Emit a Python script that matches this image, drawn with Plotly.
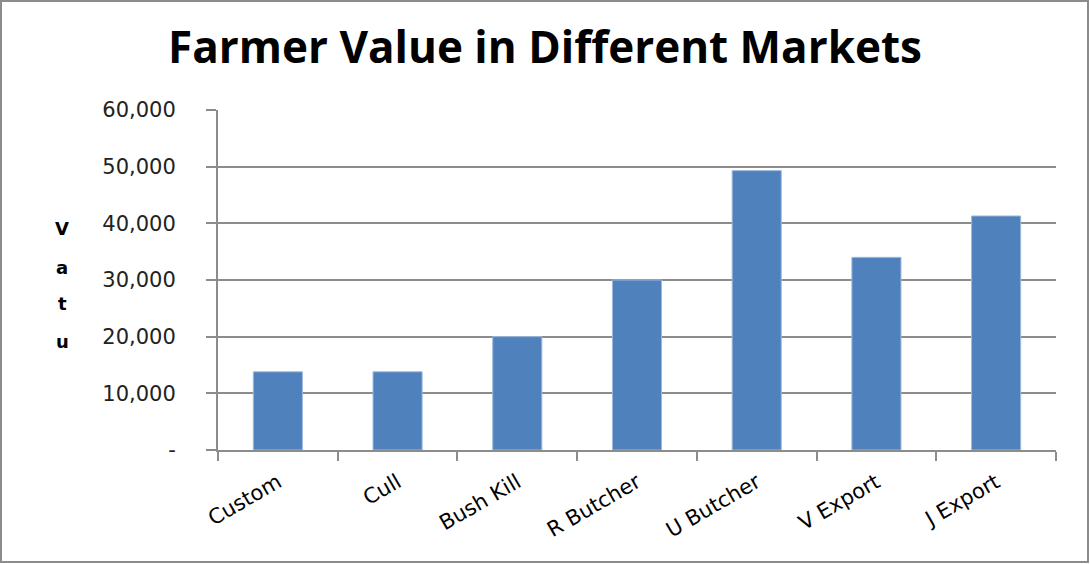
import plotly.graph_objects as go

categories = ["Custom", "Cull", "Bush Kill", "R Butcher", "U Butcher", "V Export", "J Export"]
values = [13800, 13800, 20000, 30000, 49300, 34000, 41300]
y_tick_vals = [0, 10000, 20000, 30000, 40000, 50000, 60000]
y_tick_text = ["-", "10,000", "20,000", "30,000", "40,000", "50,000", "60,000"]
title_text = "Farmer Value in Different Markets"
y_title_letters = ["V", "a", "t", "u"]

W, H = 1090, 564
L, R, T, B = 218, 34, 110, 114
pw, ph = W - L - R, H - T - B

fig = go.Figure()
fig.add_trace(go.Bar(
    x=categories, y=values,
    marker=dict(color="#4F81BD", line=dict(color="#9DB9DD", width=1)),
    showlegend=False,
))

letter_y = [228, 267, 303, 341]
annotations = []
for letter, py in zip(y_title_letters, letter_y):
    annotations.append(dict(
        text=letter, xref="paper", yref="paper",
        x=(62 - L) / pw, y=(H - B - py) / ph,
        showarrow=False, xanchor="center", yanchor="middle",
        font=dict(family="DejaVu Sans", size=18, color="#000000", weight="bold"),
    ))

shapes = [dict(
    type="rect", xref="paper", yref="paper",
    x0=(1 - L) / pw, x1=(1088 - L) / pw,
    y0=(H - B - 562) / ph, y1=(H - B - 1) / ph,
    line=dict(color="#8c8c8c", width=2), fillcolor="rgba(0,0,0,0)", layer="below",
)]

fig.update_layout(
    width=W, height=H,
    margin=dict(l=L, r=R, t=T, b=B, autoexpand=False),
    paper_bgcolor="white", plot_bgcolor="white",
    title=dict(text="<b>" + title_text + "</b>", x=0.5, xref="container", xanchor="center",
               y=1 - 48 / H, yanchor="middle",
               font=dict(family="Open Sans", size=44, color="#000000")),
    bargap=0.59,
    annotations=annotations,
    shapes=shapes,
    xaxis=dict(
        showline=True, linecolor="#8c8c8c", linewidth=2,
        ticks="outside", ticklen=9, tickcolor="#8c8c8c", tickwidth=2,
        tickson="boundaries", tickangle=-30, ticklabelstandoff=10,
        tickfont=dict(family="DejaVu Sans", size=21, color="#000000"),
        showgrid=False,
    ),
    yaxis=dict(
        range=[0, 60000], tickvals=y_tick_vals, ticktext=y_tick_text,
        showline=True, linecolor="#8c8c8c", linewidth=2,
        ticks="outside", ticklen=10, tickcolor="#8c8c8c", tickwidth=2,
        ticklabelstandoff=26,
        showgrid=True, gridcolor="#8c8c8c", gridwidth=2,
        zeroline=False,
        tickfont=dict(family="DejaVu Sans", size=21, color="#222222"),
    ),
)

fig.write_html("out.html", config={"displayModeBar": False},
               post_script="document.body.style.margin='0px';document.body.style.overflow='hidden';")
